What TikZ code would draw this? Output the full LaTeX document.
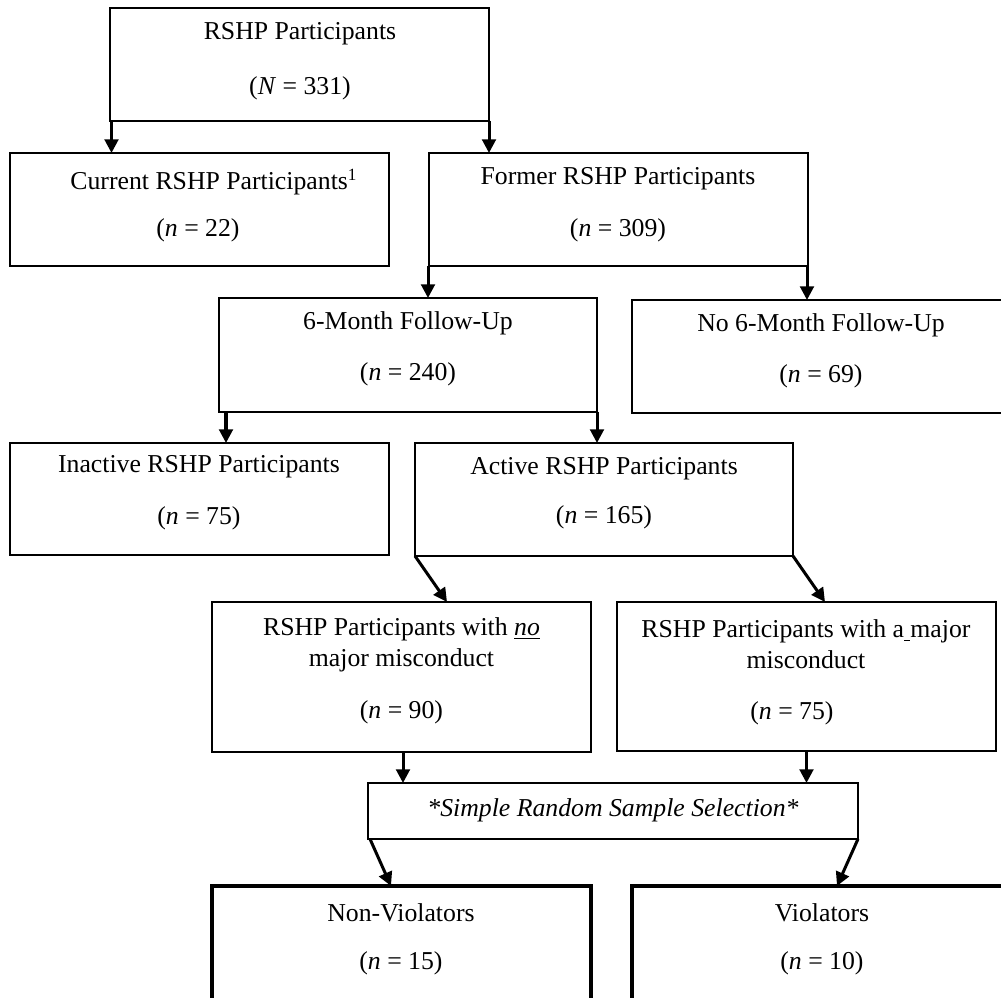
\documentclass[tikz,border=0pt]{standalone}
\usepackage{fontspec}
\setmainfont{Liberation Serif}
\usetikzlibrary{arrows.meta}
\newcommand{\pu}{0.466pt}
\begin{document}
\begin{tikzpicture}[x=0.466pt,y=-0.466pt,
  box/.style={draw, line width=0.6pt, inner sep=0pt, outer sep=0pt, anchor=north west},
  thickbox/.style={box, line width=1.55pt},
  txt/.style={inner sep=0pt, font=\fontsize{12}{14}\selectfont},
  arr/.style={line width=1.4pt, -{Triangle[width=6.4pt,length=6.4pt]}}]
\useasboundingbox (0,0) rectangle (1001,998);
\clip (0,0) rectangle (1001,998);

% boxes
\node[box, minimum width=379*\pu, minimum height=113*\pu] (top) at (110,8) {};
\node[box, minimum width=379*\pu, minimum height=113*\pu] (cur) at (10,153) {};
\node[box, minimum width=379*\pu, minimum height=113*\pu] (form) at (429,153) {};
\node[box, minimum width=378*\pu, minimum height=114*\pu] (six) at (219,298) {};
\node[box, minimum width=378*\pu, minimum height=113*\pu] (nosix) at (632,300) {};
\node[box, minimum width=379*\pu, minimum height=112*\pu] (inact) at (10,443) {};
\node[box, minimum width=378*\pu, minimum height=113*\pu] (act) at (415,443) {};
\node[box, minimum width=379*\pu, minimum height=150*\pu] (nomis) at (212,602) {};
\node[box, minimum width=379*\pu, minimum height=149*\pu] (maj) at (617,602) {};
\node[box, minimum width=490*\pu, minimum height=56*\pu] (sim) at (368,783) {};
\node[thickbox, minimum width=379*\pu, minimum height=130*\pu] (nonv) at (212,886) {};
\node[thickbox, minimum width=380*\pu, minimum height=130*\pu] (viol) at (632,886) {};

% texts
\node[txt] (topa) at (300,34) {RSHP Participants};
\node[txt] (topb) at (300,88) {(\textit{N} = 331)};
\node[txt] (cura) at (214,182) {Current RSHP Participants\textsuperscript{1}};
\node[txt] (curb) at (198,230) {(\textit{n} = 22)};
\node[txt] (forma) at (618,179) {Former RSHP Participants};
\node[txt] (formb) at (618,230) {(\textit{n} = 309)};
\node[txt] (sixa) at (408,323) {6-Month Follow-Up};
\node[txt] (sixb) at (408,374) {(\textit{n} = 240)};
\node[txt] (nosixa) at (821,325) {No 6-Month Follow-Up};
\node[txt] (nosixb) at (821,376) {(\textit{n} = 69)};
\node[txt] (inacta) at (199,467) {Inactive RSHP Participants};
\node[txt] (inactb) at (199,518) {(\textit{n} = 75)};
\node[txt] (acta) at (604,469) {Active RSHP Participants};
\node[txt] (actb) at (604,517) {(\textit{n} = 165)};
\node[txt] (nomisa) at (401.5,629) {RSHP Participants with \underline{\textit{no}}};
\node[txt] (nomisb) at (401.5,660) {major misconduct};
\node[txt] (nomisc) at (401.5,712) {(\textit{n} = 90)};
\node[txt] (maja) at (806,631) {RSHP Participants with a\underline{\ }major};
\node[txt] (majb) at (806,660) {misconduct};
\node[txt] (majc) at (792,713) {(\textit{n} = 75)};
\node[txt] (sima) at (613,810) {\textit{*Simple Random Sample Selection*}};
\node[txt] (nonva) at (401,913) {Non-Violators};
\node[txt] (nonvb) at (401,963) {(\textit{n} = 15)};
\node[txt] (viola) at (822,913) {Violators};
\node[txt] (violb) at (822,963) {(\textit{n} = 10)};

% connectors
\draw[arr] ([xshift=1.5*\pu]top.south west) -- ([xshift=1.5*\pu]top.south west |- cur.north);
\draw[arr] (top.south east) -- (top.south east |- form.north);
\draw[arr] ([xshift=-1*\pu]form.south west) -- ([xshift=-1*\pu]form.south west |- six.north);
\draw[arr] ([xshift=-1*\pu]form.south east) -- ([xshift=-1*\pu]form.south east |- nosix.north);
\draw[arr] ([xshift=7*\pu]six.south west) -- ([xshift=7*\pu]six.south west |- inact.north);
\draw[arr] (six.south east) -- (six.south east |- act.north);
\draw[arr] (act.south west) -- ([xshift=235*\pu]nomis.north west);
\draw[arr] (act.south east) -- ([xshift=208*\pu]maj.north west);
\draw[arr] ([xshift=1.5*\pu]nomis.south) -- ([xshift=1.5*\pu]nomis.south |- sim.north);
\draw[arr] (maj.south) -- (maj.south |- sim.north);
\draw[arr] ([xshift=2*\pu]sim.south west) -- ([xshift=179*\pu]nonv.north west);
\draw[arr] (sim.south east) -- ([xshift=205*\pu]viol.north west);
\end{tikzpicture}
\end{document}
